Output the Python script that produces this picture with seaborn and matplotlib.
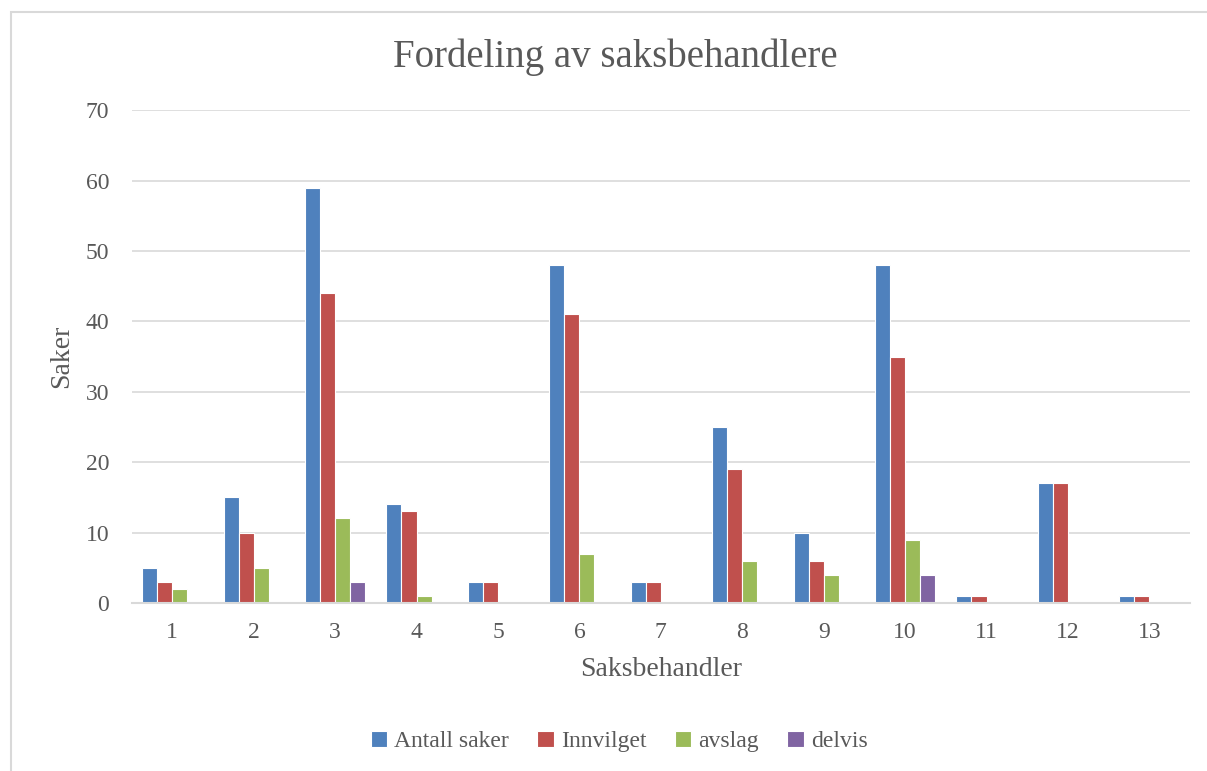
import pandas as pd
import matplotlib.pyplot as plt
import seaborn as sns
from matplotlib.patches import Rectangle

# Data
saksbehandler = [str(i) for i in range(1, 14)]
antall_saker = [5, 15, 59, 14, 3, 48, 3, 25, 10, 48, 1, 17, 1]
innvilget = [3, 10, 44, 13, 3, 41, 3, 19, 6, 35, 1, 17, 1]
avslag = [2, 5, 12, 1, 0, 7, 0, 6, 4, 9, 0, 0, 0]
delvis = [0, 0, 3, 0, 0, 0, 0, 0, 0, 4, 0, 0, 0]

series_names = ["Antall saker", "Innvilget", "avslag", "delvis"]
colors = ["#4F81BD", "#C0504D", "#9BBB59", "#8064A2"]

df = pd.DataFrame({
    "Saksbehandler": saksbehandler,
    "Antall saker": antall_saker,
    "Innvilget": innvilget,
    "avslag": avslag,
    "delvis": delvis,
})
long_df = df.melt(id_vars="Saksbehandler", var_name="Serie", value_name="Saker")

sns.set_style("white")
plt.rcParams["font.family"] = ["Liberation Serif", "DejaVu Serif"]
text_color = "#595959"

fig = plt.figure(figsize=(12.07, 7.71), dpi=100)
ax = fig.add_axes([0.109, 0.218, 0.877, 0.639])

sns.barplot(data=long_df, x="Saksbehandler", y="Saker", hue="Serie",
            hue_order=series_names, palette=colors, order=saksbehandler,
            width=0.74, saturation=1, edgecolor="white", linewidth=0.8,
            ax=ax, legend=True)

ax.set_ylim(0, 70)
ax.set_yticks(range(0, 71, 10))
ax.set_xlim(-0.5, len(saksbehandler) - 0.5)
ax.yaxis.grid(True, color="#D9D9D9", linewidth=1.2)
ax.set_axisbelow(True)
for side in ["left", "right", "top"]:
    ax.spines[side].set_visible(False)
ax.spines["bottom"].set_color("#D9D9D9")
ax.spines["bottom"].set_linewidth(1.5)
ax.tick_params(axis="both", length=0, labelsize=17, labelcolor=text_color)
ax.tick_params(axis="x", pad=14)
ax.tick_params(axis="y", pad=16)

ax.set_xlabel("Saksbehandler", fontsize=20, color=text_color, labelpad=10)
ax.set_ylabel("Saker", fontsize=20, color=text_color, labelpad=8)
fig.text(0.51, 0.926, "Fordeling av saksbehandlere", ha="center", va="center",
         fontsize=28, color=text_color)

ax.legend_.remove()
leg = fig.legend(loc="center", bbox_to_anchor=(0.513, 0.038), ncol=4, frameon=False,
                 fontsize=17, handlelength=0.7, handleheight=0.7, handletextpad=0.3,
                 columnspacing=1.2, labelcolor=text_color)

# Chart border
fig.patches.append(Rectangle((0.009, -0.01), 1.0, 0.995, transform=fig.transFigure,
                             fill=False, edgecolor="#D9D9D9", linewidth=1.5))

fig.savefig("out.png", dpi=100)
